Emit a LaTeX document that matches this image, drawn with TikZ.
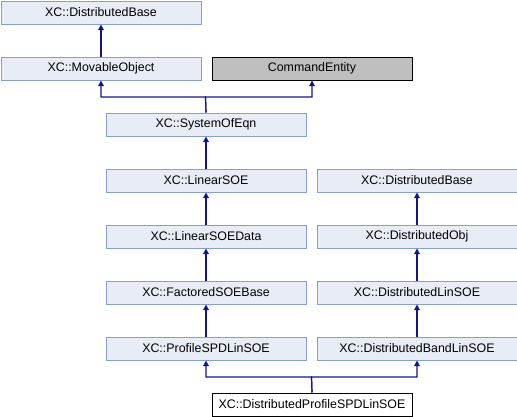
\documentclass[tikz,border=0pt]{standalone}
\usepackage{fontspec}
\setmainfont{Liberation Sans}
\usetikzlibrary{arrows.meta}
\definecolor{boxfill}{HTML}{E8ECF4}
\definecolor{boxline}{HTML}{84A0D0}
\definecolor{arrowc}{HTML}{14148C}
\definecolor{grayfill}{HTML}{BFBFBF}
\tikzset{
  cls/.style={draw=boxline, fill=boxfill, line width=1pt, minimum width=200pt, minimum height=23pt, inner sep=0pt, font=\fontsize{12.4pt}{14pt}\selectfont, anchor=north west},
  ext/.style={cls, draw=black, fill=grayfill},
  cur/.style={cls, draw=black, fill=white},
  link/.style={draw=arrowc, line width=1.2pt},
  inh/.style={link, -{Triangle[width=5.5pt,length=5.5pt]}}
}
\begin{document}
\begin{tikzpicture}[x=1pt,y=-1pt]
\useasboundingbox (0,0) rectangle (517,416);
\node[cls] (db1) at (0.5,0.5) {XC::DistributedBase};
\node[cls] (mo) at (0.5,56.5) {XC::MovableObject};
\node[ext] (ce) at (211.5,56.5) {CommandEntity};
\node[cls] (soe) at (105.5,112.5) {XC::SystemOfEqn};
\node[cls] (lsoe) at (105.5,168.5) {XC::LinearSOE};
\node[cls] (db2) at (316.5,168.5) {XC::DistributedBase};
\node[cls] (lsd) at (105.5,224.5) {XC::LinearSOEData};
\node[cls] (dobj) at (316.5,224.5) {XC::DistributedObj};
\node[cls] (fsb) at (105.5,280.5) {XC::FactoredSOEBase};
\node[cls] (dls) at (316.5,280.5) {XC::DistributedLinSOE};
\node[cls] (pspd) at (105.5,336.5) {XC::ProfileSPDLinSOE};
\node[cls] (dbl) at (316.5,336.5) {XC::DistributedBandLinSOE};
\node[cur] (dps) at (211.5,392.5) {XC::DistributedProfileSPDLinSOE};
\coordinate (j1) at (205.5,97);
\coordinate (j2) at (311.5,377);
\draw[inh] (mo.north) -- (db1.south);
\draw[inh] (soe.north) -- (j1) -| (mo.south);
\draw[inh] (soe.north) -- (j1) -| (ce.south);
\draw[inh] (lsoe.north) -- (soe.south);
\draw[inh] (lsd.north) -- (lsoe.south);
\draw[inh] (fsb.north) -- (lsd.south);
\draw[inh] (pspd.north) -- (fsb.south);
\draw[inh] (dobj.north) -- (db2.south);
\draw[inh] (dls.north) -- (dobj.south);
\draw[inh] (dbl.north) -- (dls.south);
\draw[inh] (dps.north) -- (j2) -| (pspd.south);
\draw[inh] (dps.north) -- (j2) -| (dbl.south);
\end{tikzpicture}
\end{document}
